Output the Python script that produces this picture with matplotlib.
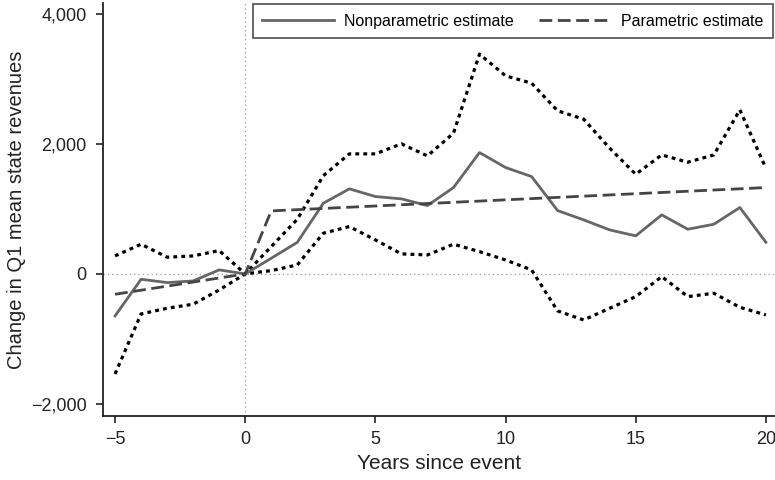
import numpy as np
from matplotlib import pyplot as plt, rcParams
from matplotlib.ticker import FuncFormatter

rcParams['font.family'] = ['Liberation Sans', 'DejaVu Sans']
rcParams['axes.unicode_minus'] = True

years = list(range(-5, 21))
nonparam = [-646, -82, -133, -108, 62, 0, 241, 485, 1087, 1308, 1190, 1154, 1051,
            1328, 1866, 1636, 1497, 974, 831, 677, 585, 908, 687, 764, 1021, 487]
ci_upper = [277, 457, 257, 277, 359, 0, 420, 840, 1510, 1846, 1846, 2000, 1815,
            2164, 3380, 3046, 2933, 2508, 2380, 1933, 1533, 1830, 1718, 1830, 2523, 1626]
ci_lower = [-1538, -615, -528, -466, -246, 0, 51, 138, 626, 728, 523, 308, 292,
            457, 343, 215, 62, -569, -708, -528, -349, -41, -349, -297, -513, -631]
# parametric fit: linear pre-trend, jump at year 1, linear post-trend
param_years = [-5, 0, 1, 20]
param_vals = [-313, 0, 969, 1328]


def main():
    fig = plt.figure(figsize=(7.75, 4.8), dpi=100)
    ax = fig.add_axes([0.133, 0.1333, 0.867, 0.861])

    ax.axvline(0, color='#999999', lw=0.9, ls=(0, (1, 2.5)), zorder=1)
    ax.axhline(0, color='#999999', lw=0.9, ls=(0, (1, 2.5)), zorder=1)

    ax.plot(years, nonparam, color='#666666', lw=2.0, label='Nonparametric estimate', zorder=3)
    ax.plot(param_years, param_vals, color='#444444', lw=2.0, ls=(0, (4.6, 2.0)),
            label='Parametric estimate', zorder=3)
    ax.plot(years, ci_upper, color='black', lw=2.3, ls=(0, (1.2, 1.3)), zorder=2)
    ax.plot(years, ci_lower, color='black', lw=2.3, ls=(0, (1.2, 1.3)), zorder=2)

    ax.set_xlim(-5.46, 20.35)
    ax.set_ylim(-2185, 4170)
    ax.set_xticks([-5, 0, 5, 10, 15, 20])
    ax.set_yticks([-2000, 0, 2000, 4000])
    ax.yaxis.set_major_formatter(FuncFormatter(
        lambda v, p: ('\u2212' if v < 0 else '') + '{:,}'.format(int(abs(v)))))
    ax.xaxis.set_major_formatter(FuncFormatter(
        lambda v, p: ('\u2212' if v < 0 else '') + '{:d}'.format(int(abs(v)))))

    for s in ['top', 'right']:
        ax.spines[s].set_visible(False)
    for s in ['left', 'bottom']:
        ax.spines[s].set_linewidth(1.3)
        ax.spines[s].set_color('#222222')
    ax.tick_params(direction='out', length=5, width=1.2, color='#222222',
                   labelsize=13, labelcolor='#222222')
    ax.tick_params(axis='x', pad=6)
    ax.tick_params(axis='y', pad=7)

    ax.set_xlabel('Years since event', fontsize=15, color='#222222', labelpad=4)
    ax.set_ylabel('Change in Q1 mean state revenues', fontsize=14.5, color='#222222', labelpad=3)

    leg = ax.legend(loc='upper left', bbox_to_anchor=(0.223, 0.997),
                    ncol=2, fontsize=11.5, frameon=True, fancybox=False,
                    handlelength=4.5, handletextpad=0.6, borderpad=0.6,
                    columnspacing=1.6, borderaxespad=0)
    leg.get_frame().set_edgecolor('#222222')
    leg.get_frame().set_linewidth(1.2)

    plt.savefig('out.png', dpi=100)


if __name__ == '__main__':
    main()
